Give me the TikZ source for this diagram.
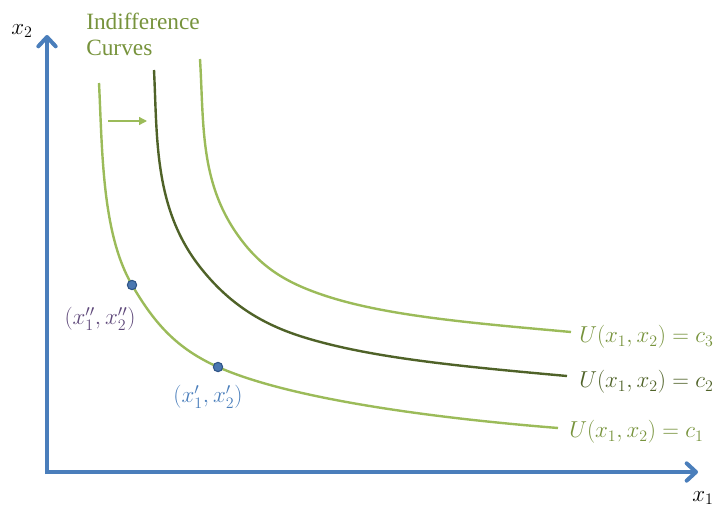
\documentclass[tikz,border=0pt]{standalone}
\usepackage{amsmath}
\usepackage{fontspec}
\usepackage{tikz}
\usetikzlibrary{arrows.meta,positioning}
\newfontfamily\titlefont{Liberation Serif}
\definecolor{axisblue}{HTML}{4A7EBB}
\definecolor{lightgreen}{HTML}{9BBB59}
\definecolor{darkgreen}{HTML}{4F6228}
\definecolor{textgreen}{HTML}{77933C}
\definecolor{dotblue}{HTML}{4A77B0}
\definecolor{dotedge}{HTML}{2F5486}
\definecolor{bundlepurple}{HTML}{5F497A}

\begin{document}
\begin{tikzpicture}[x=0.75pt,y=-0.75pt,
   axis/.style={draw=axisblue,line width=3pt,
                -{Straight Barb[length=7pt,width=13pt,round]}},
   curve/.style={line width=1.8pt},
   dot/.style={circle,fill=dotblue,draw=dotedge,line width=0.8pt,
               inner sep=0pt,minimum size=7pt},
   lbl/.style={font=\fontsize{18}{21}\selectfont,inner sep=0pt}]
  \useasboundingbox (0,0) rectangle (728,507);

  % axes
  \coordinate (origin) at (47,472);
  \coordinate (ytip) at (47,35);
  \coordinate (xtip) at (698,472);
  \draw[axis] ([yshift=-1.5pt]origin) -- (ytip);
  \draw[axis] ([xshift=-1.5pt]origin) -- (xtip);
  \node[lbl] (xtwo) at (22,31) {$x_2$};
  \node[lbl] (xone) at (703,498) {$x_1$};

  % indifference curves
  \coordinate (pB) at (132,285);
  \coordinate (pA) at (218,367);
  \draw[curve,lightgreen] (99,83) .. controls (102.4,151) and (101.8,233.2) .. (pB)
    .. controls (154.7,323.8) and (176.9,348.7) .. (pA)
    .. controls (281.9,395.5) and (408.6,416) .. (558,428);
  \draw[curve,darkgreen] (154,70) .. controls (157.4,138) and (153.7,208) .. (200,267)
    .. controls (227.8,302.4) and (260,323.6) .. (303,337)
    .. controls (369.9,357.8) and (457.6,366.1) .. (567,376);
  \draw[curve,lightgreen] (200,59) .. controls (203.9,124) and (199.8,180.7) .. (237,234)
    .. controls (259.9,266.8) and (285.1,282.2) .. (323,295)
    .. controls (384.6,315.8) and (471.4,323) .. (571,332);

  \node[lbl,anchor=west,text=textgreen] (cthree) at (579,337)
    {$U(x_1,x_2)=c_3$};
  \node[lbl,anchor=west,text=darkgreen] (ctwo) at (579,382)
    {$U(x_1,x_2)=c_2$};
  \node[lbl,anchor=west,text=textgreen] (cone) at (569,432)
    {$U(x_1,x_2)=c_1$};

  % title and shift arrow
  \node[anchor=north west,align=left,text=textgreen,inner sep=0pt,
        font=\titlefont\fontsize{17.5}{19.5}\selectfont] (title) at (86,13)
    {Indifference\\Curves};
  \coordinate (shiftfrom) at (108,121);
  \coordinate (shiftto) at (147,121);
  \draw[lightgreen,line width=1pt,-{Triangle[length=6pt,width=6pt]}]
    (shiftfrom) -- (shiftto);

  % bundles on the lowest curve
  \node[dot] (bundleB) at (pB) {};
  \node[dot] (bundleA) at (pA) {};
  \node[lbl,text=bundlepurple] (labelB) at (100,319) {$(x''_1,x''_2)$};
  \node[lbl,text=axisblue] (labelA) at (208,397) {$(x'_1,x'_2)$};
\end{tikzpicture}
\end{document}
